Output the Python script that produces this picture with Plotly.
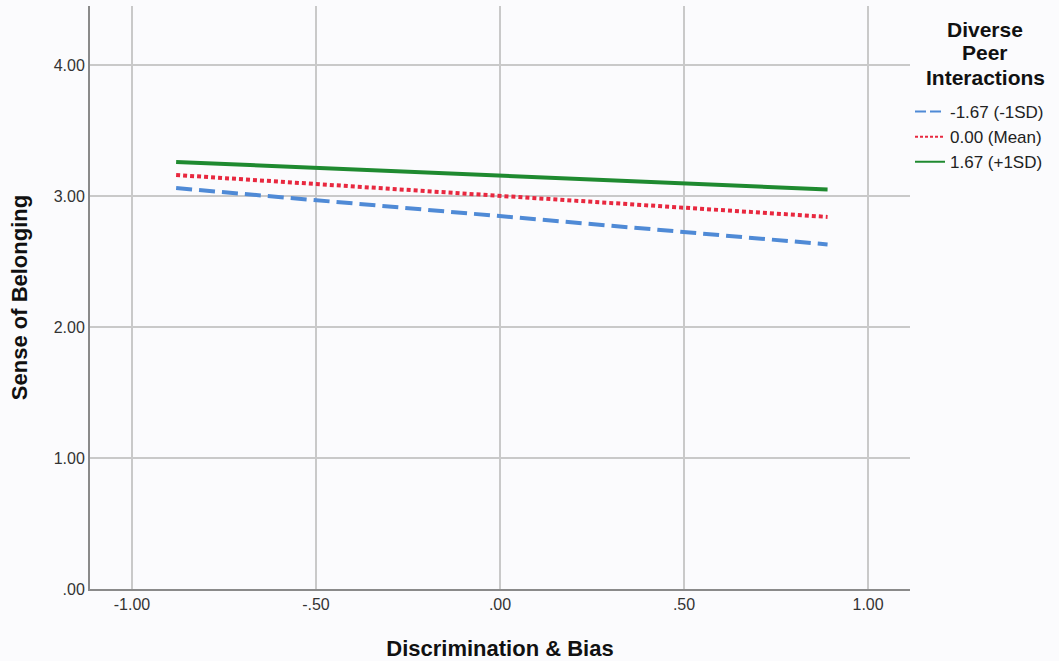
import plotly.graph_objects as go

x_vals = [-0.88, 0.89]
series_names = ["-1.67 (-1SD)", "0.00 (Mean)", "1.67 (+1SD)"]
low_vals = [3.06, 2.63]
mean_vals = [3.16, 2.84]
high_vals = [3.26, 3.05]

x_tickvals = [-1.0, -0.5, 0.0, 0.5, 1.0]
x_ticktext = ["-1.00", "-.50", ".00", ".50", "1.00"]
y_tickvals = [0, 1, 2, 3, 4]
y_ticktext = [".00", "1.00", "2.00", "3.00", "4.00"]
legend_title_lines = ["Diverse", "Peer", "Interactions"]

colors = ["#4f8ad6", "#e8283f", "#1f8a30"]
dashes_plot = ["16px,7px", "4px,3px", "solid"]
dashes_leg = ["11px,4px", "3px,2px", "solid"]
series_vals = [low_vals, mean_vals, high_vals]

fig = go.Figure()
for name, vals, c, d in zip(series_names, series_vals, colors, dashes_plot):
    fig.add_trace(go.Scatter(x=x_vals, y=vals, mode="lines", name=name,
                             line=dict(color=c, width=4, dash=d), showlegend=False))
for name, c, d in zip(series_names, colors, dashes_leg):
    fig.add_trace(go.Scatter(x=[None], y=[None], mode="lines", name=name,
                             line=dict(color=c, width=2, dash=d), showlegend=True))

L, R, T, B = 90, 149, 6, 72
W, H = 1059, 661
pw, ph = W - L - R, H - T - B

def py(ypix):
    return (H - B - ypix) / ph

def px(xpix):
    return (xpix - L) / pw

annots = []
for txt, yc in zip(legend_title_lines, [29, 53, 77]):
    annots.append(dict(text="<b>" + txt + "</b>", xref="paper", yref="paper",
                       x=px(985), y=py(yc), xanchor="center", yanchor="middle",
                       showarrow=False, font=dict(size=21, color="#111")))

bg = "#fbfbfd"
fig.update_layout(
    width=W, height=H,
    margin=dict(l=L, r=R, t=T, b=B),
    paper_bgcolor=bg, plot_bgcolor=bg,
    font=dict(family="Liberation Sans, Arial, sans-serif", color="#222"),
    legend=dict(x=px(910), xanchor="left", y=py(94), yanchor="top",
                font=dict(size=17, color="#222"), bgcolor="rgba(0,0,0,0)",
                itemwidth=30, tracegroupgap=0),
    annotations=annots,
)
fig.update_xaxes(range=[-1.114, 1.114], tickvals=x_tickvals, ticktext=x_ticktext,
                 showgrid=True, gridcolor="#c9c9c9", gridwidth=1.5, zeroline=False,
                 showline=True, linecolor="#8a8a8a", linewidth=2, ticks="",
                 tickfont=dict(size=16, color="#333"), automargin=False,
                 title=dict(text="<b>Discrimination & Bias</b>", font=dict(size=22, color="#111"), standoff=28))
fig.update_yaxes(range=[0, 4.45], tickvals=y_tickvals, ticktext=y_ticktext,
                 showgrid=True, gridcolor="#c9c9c9", gridwidth=1.5, zeroline=False,
                 showline=True, linecolor="#8a8a8a", linewidth=2, ticks="",
                 tickfont=dict(size=16, color="#333"), automargin=False,
                 title=dict(text="<b>Sense of Belonging</b>", font=dict(size=22, color="#111"), standoff=20))

fig.write_html("out.html", config={"displayModeBar": False},
               post_script="document.body.style.margin='0';document.body.style.background='#fbfbfd';")
